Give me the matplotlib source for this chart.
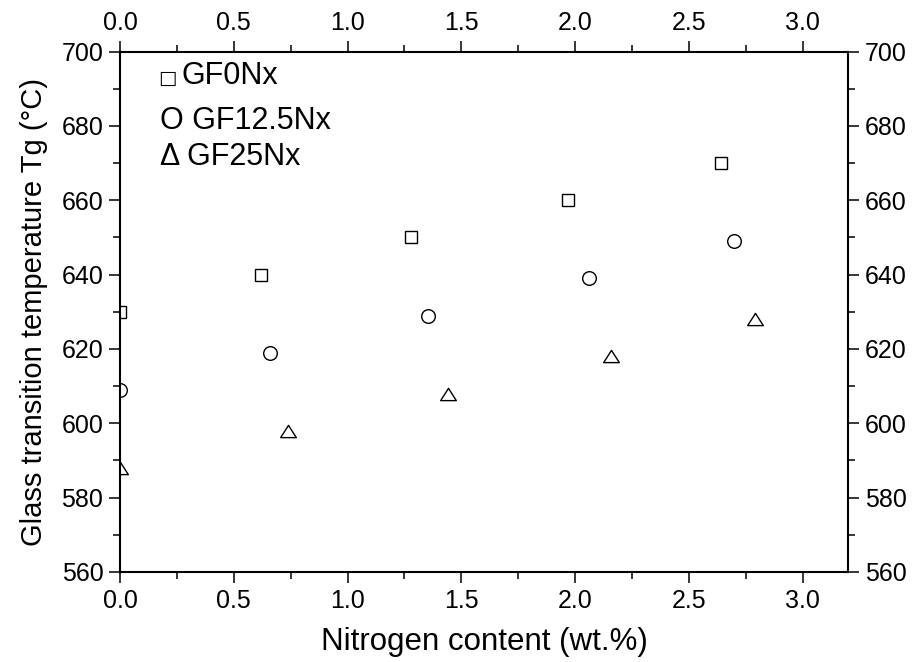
import matplotlib
matplotlib.use("Agg")
import matplotlib.pyplot as plt
from matplotlib.path import Path
from matplotlib.ticker import MultipleLocator

plt.rcParams['font.family'] = ['Liberation Sans', 'DejaVu Sans']

# data
n_gf0 = [0.0, 0.62, 1.28, 1.97, 2.64]
tg_gf0 = [630, 640, 650, 660, 670]
n_gf125 = [0.0, 0.66, 1.355, 2.06, 2.70]
tg_gf125 = [609, 619, 629, 639, 649]
n_gf25 = [0.0, 0.74, 1.44, 2.16, 2.79]
tg_gf25 = [588, 598, 608, 618, 628]

legend_names = ['GF0Nx', 'GF12.5Nx', 'GF25Nx']
legend_syms = ['\u25a1', 'O', '\u0394']

fig = plt.figure(figsize=(9.14, 6.62), dpi=100)
ax = fig.add_axes([0.1313, 0.136, 0.7965, 0.786])

# flat open triangle, a bit wider than tall
tri = Path([(-1, -0.78), (1, -0.78), (0, 0.78), (-1, -0.78)], closed=True)
ax.plot(n_gf0, tg_gf0, ls='none', marker='s', ms=8.6, mfc='none', mec='black', mew=1.0)
ax.plot(n_gf125, tg_gf125, ls='none', marker='o', ms=9.8, mfc='none', mec='black', mew=1.0)
ax.plot(n_gf25, tg_gf25, ls='none', marker=tri, ms=11.3, mfc='none', mec='black', mew=1.0)

ax.set_xlim(0, 3.2)
ax.set_ylim(560, 700)
ax.xaxis.set_major_locator(MultipleLocator(0.5))
ax.xaxis.set_minor_locator(MultipleLocator(0.25))
ax.yaxis.set_major_locator(MultipleLocator(20))
ax.yaxis.set_minor_locator(MultipleLocator(10))
ax.xaxis.set_major_formatter(plt.FormatStrFormatter('%.1f'))

ax.tick_params(which='both', direction='out', top=True, right=True,
               labeltop=True, labelright=True, width=1.1, labelsize=18, pad=4)
ax.tick_params(which='major', length=8)
ax.tick_params(which='minor', length=4.8)
for sp in ax.spines.values():
    sp.set_linewidth(1.5)

ax.set_xlabel('Nitrogen content (wt.%)', fontsize=22.5, labelpad=10)
ax.set_ylabel('Glass transition temperature Tg (\u00b0C)', fontsize=21, labelpad=10)

# text legend in the upper left
ys = [0.954, 0.867, 0.798]
for sym, name, yy in zip(legend_syms, legend_names, ys):
    if sym == '\u25a1':
        ax.text(0.053, yy - 0.006, sym, transform=ax.transAxes, fontsize=14, va='center',
                family=['DejaVu Sans'])
        ax.text(0.085, yy, name, transform=ax.transAxes, fontsize=22, va='center')
    else:
        ax.text(0.055, yy, sym + ' ' + name, transform=ax.transAxes, fontsize=22, va='center')

fig.savefig('out.png', dpi=100)
